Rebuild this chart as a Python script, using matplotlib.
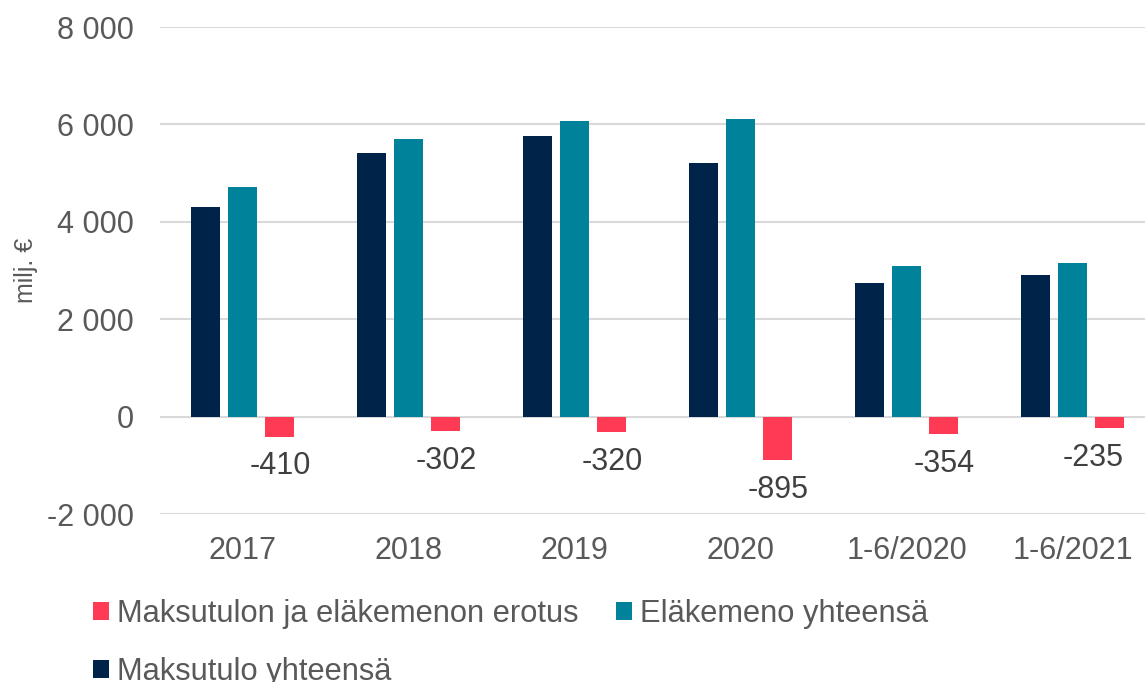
import matplotlib
matplotlib.use("Agg")
from matplotlib import pyplot as plt
from matplotlib.ticker import FuncFormatter
import numpy as np

plt.rcParams['font.family'] = ['Liberation Sans', 'DejaVu Sans']

categories = ["2017", "2018", "2019", "2020", "1-6/2020", "1-6/2021"]
maksutulo = [4302, 5405, 5760, 5213, 2740, 2911]
elakemeno = [4712, 5707, 6080, 6108, 3094, 3146]
erotus = [-410, -302, -320, -895, -354, -235]
erotus_labels = ["-410", "-302", "-320", "-895", "-354", "-235"]

c_dark = "#002349"
c_teal = "#00829B"
c_red = "#FF3A55"
grey = "#595959"

fig = plt.figure(figsize=(11.45, 6.82), dpi=100)
ax = fig.add_axes([0.1397, 0.2463, 0.8603, 0.7141])

x = np.arange(len(categories))
w = 0.175
step = 0.223
b_dark = ax.bar(x - step, maksutulo, w, color=c_dark, zorder=3, label="Maksutulo yhteensä")
b_teal = ax.bar(x, elakemeno, w, color=c_teal, zorder=3, label="Eläkemeno yhteensä")
b_red = ax.bar(x + step, erotus, w, color=c_red, zorder=3, label="Maksutulon ja eläkemenon erotus")

# data labels under the red bars, last one nudged left like in the original
for i, v in enumerate(erotus):
    dx = -17 if i == len(erotus) - 1 else 0
    ax.annotate(erotus_labels[i], (x[i] + step, v), xytext=(dx * 0.72, -21.5),
                textcoords="offset points", ha="center", va="center",
                fontsize=22, color="#404040")

ax.set_ylim(-2000, 8000)
ax.set_yticks([-2000, 0, 2000, 4000, 6000, 8000])
ax.yaxis.set_major_formatter(FuncFormatter(lambda v, p: f"{int(v):,}".replace(",", " ")))
ax.set_xlim(-0.5, 5.435)
ax.set_xticks(x)
ax.set_xticklabels(categories)
ax.grid(axis="y", color="#D9D9D9", linewidth=1.5, zorder=0)
for s in ax.spines.values():
    s.set_visible(False)
ax.tick_params(axis="y", length=0, pad=19, labelsize=22, labelcolor=grey)
ax.tick_params(axis="x", length=0, pad=16, labelsize=22, labelcolor=grey)
ax.set_ylabel("milj. €", fontsize=18, color=grey)
ax.yaxis.set_label_coords(-0.124, 0.5)

fig.legend([b_red, b_dark, b_teal],
           ["Maksutulon ja eläkemenon erotus", "Maksutulo yhteensä", "Eläkemeno yhteensä"],
           loc="upper left", bbox_to_anchor=(0.081, 0.122), ncol=2, frameon=False,
           fontsize=22.2, labelcolor=grey, handlelength=0.53, handleheight=0.53,
           handletextpad=0.26, columnspacing=1.2, labelspacing=0.9, borderpad=0,
           borderaxespad=0)

fig.savefig("out.png", dpi=100)
